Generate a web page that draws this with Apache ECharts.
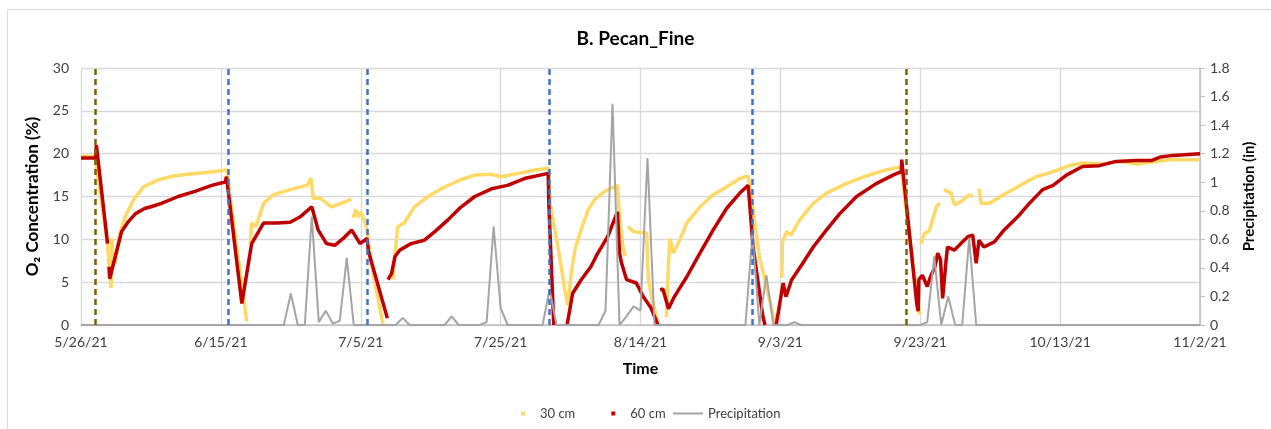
<!DOCTYPE html>
<html>
<head>
<meta charset="utf-8">
<script src="https://cdn.jsdelivr.net/npm/echarts@6/dist/echarts.min.js"></script>
<style>
  html,body{margin:0;padding:0;background:#fff;}
  #chart{width:1271px;height:429px;}
</style>
</head>
<body>
<div id="chart"></div>
<script>
// time axis is days since 5/26/21, ticks every 20 days
const xTickLabels = ['5/26/21','6/15/21','7/5/21','7/25/21','8/14/21','9/3/21','9/23/21','10/13/21','11/2/21']

// O2 at 30 cm (null = gap in the record)
const days30 = [0,2.0,2.2,3.8,4.3,4.4,4.6,4.9,5.5,6.3,7.5,8.9,10.9,13.2,15.2,18.0,20.9,21.3,23.7,23.8,
  24.2,24.4,25.0,26.1,27.5,29.9,32.3,32.9,33.2,34.2,35.8,37.2,38.7,38.8,38.9,39.3,39.6,40.0,40.5,40.9,41.5,43.2,43.3,
  44.6,44.8,45.3,46.2,47.7,49.6,51.5,54.1,56.3,58.7,60.1,62.5,64.9,66.8,67.1,68.2,69.1,69.6,70.1,70.6,71.5,72.5,73.4,74.9,76.7,
  77.0,77.5,77.8,77.9,78.2,79.0,80.9,81.0,81.2,81.8,82.5,82.6,
  83.7,84.0,84.2,84.7,85.6,86.6,88.5,90.4,92.3,94.2,95.4,96.1,97.0,98.0,98.9,99.4,99.5,
  100.2,100.3,100.9,101.5,102.8,104.7,106.6,109.4,112.3,115.1,117.0,117.3,118.5,119.9,120.0,
  120.1,120.6,121.3,122.3,122.8,122.9,123.4,124.4,124.9,125.8,127.0,127.5,127.6,
  128.4,128.7,129.9,131.9,133.9,135.6,136.6,139.0,141.3,143.2,146.1,148.5,150.9,153.0,155.6,160]
const o2_30 = [19.7,19.7,19.5,9.3,4.3,10.1,7.5,7.2,10.5,12.6,14.6,16.1,16.9,17.4,17.6,17.8,18.1,15.0,0.4,null,
  9.5,11.9,11.5,14.2,15.2,15.8,16.3,17.1,14.8,14.8,13.8,14.2,14.7,null,12.5,13.5,12.6,13.2,12.2,11.1,7.2,0,null,
  5.3,7.6,11.5,11.9,13.8,15.0,15.9,16.9,17.5,17.6,17.3,17.7,18.1,18.3,14.0,9.1,4.5,2.3,6.0,8.75,11.1,13.4,14.6,15.6,16.3,
  12.6,9.1,8.0,null,11.5,10.9,10.7,7.2,4.9,2.5,0.3,null,
  0.9,7.2,10.1,8.4,9.9,11.9,13.8,15.2,16.1,17.1,17.4,13.4,8.0,4.5,1.4,0,null,
  5.5,9.7,10.9,10.5,12.3,14.2,15.4,16.5,17.4,18.1,18.4,18.2,10.0,1.2,null,
  9.5,10.7,11.0,13.8,14.2,null,15.8,15.4,14.0,14.4,15.2,15.0,null,
  15.9,14.2,14.2,15.2,16.1,16.9,17.3,17.9,18.6,18.9,18.8,19.1,18.8,19.0,19.3,19.3]

// O2 at 60 cm
const days60 = [0,2.1,2.2,3.8,3.9,4.0,4.1,4.3,4.9,5.8,6.8,7.8,9.1,10.0,11.5,13.9,16.3,18.7,20.6,20.8,23.0,23.8,24.4,26.1,28.0,29.9,31.3,
  33.0,33.9,35.1,36.3,37.5,38.7,39.9,40.9,41.1,43.8,43.85,
  43.9,44.4,44.9,45.6,47.2,49.1,50.6,52.5,54.1,56.3,58.7,61.0,63.4,66.8,66.9,67.6,67.7,
  69.5,70.3,71.5,72.9,73.9,75.3,76.7,77.0,77.3,78.0,79.4,80.4,81.5,82.5,82.6,
  82.8,83.2,84.0,84.7,85.6,86.6,88.5,90.4,92.3,94.2,95.4,96.1,97.5,97.8,97.9,
  99.4,100.4,100.8,101.6,103.2,104.7,106.6,108.5,110.9,113.7,116.1,117.3,117.35,118.5,119.5,119.7,
  119.8,120.3,121.0,121.5,122.1,122.5,122.9,123.2,123.7,123.9,124.9,125.8,126.8,127.5,128.0,128.4,129.1,130.6,132.0,133.9,
  135.6,137.5,139.0,140.9,143.2,145.6,148.0,150.9,153.0,154.3,156.2,160]
const o2_60 = [19.5,19.5,21.0,9.5,null,6.8,5.4,5.6,8.0,10.9,12.1,13.0,13.6,13.8,14.2,15.0,15.6,16.3,16.7,17.3,2.5,6.5,9.5,11.9,11.9,12.0,12.6,
  13.8,11.1,9.5,9.3,10.1,11.1,9.5,10.1,8.6,0.8,null,
  5.3,6.0,8.0,8.75,9.5,9.9,10.9,12.3,13.6,15.0,15.9,16.3,17.1,17.7,14.0,0,null,
  0,3.7,5.25,6.8,8.4,10.3,13.2,8.4,7.2,5.3,4.9,3.3,2.0,0,null,
  4.1,4.2,1.9,3.1,4.3,5.6,8.4,11.1,13.6,15.4,16.3,9.1,1.0,0,null,
  0,4.9,3.3,5.25,7.2,9.1,11.1,13.0,15.0,16.5,17.5,17.9,19.3,10.3,2.5,1.6,
  5.3,5.8,4.5,5.7,6.8,8.4,7.6,3.1,7.6,9.1,8.75,9.5,10.3,10.5,7.2,9.9,9.1,9.7,11.1,12.6,
  14.2,15.8,16.3,17.5,18.5,18.6,19.1,19.2,19.2,19.6,19.8,20.0]

// daily precipitation (in)
const precipDays = [0,29,30,31,32,33,34,35,36,37,38,39,45,46,47,52,53,54,57,58,59,60,61,66,67,68,74,75,76,77,78,79,80,81,82,
  95,96,97,98,99,101,102,103,120,121,122,123,124,125,126,127,128,160]
const precipIn = [0,0,0.22,0,0,0.76,0.02,0.10,0.01,0.03,0.47,0,0,0.05,0,0,0.06,0,0,0.02,0.69,0.12,0,0,0.25,0,0,0.10,1.55,0,0.06,0.13,0.10,1.17,0,
  0,0.64,0,0.35,0,0,0.02,0,0,0.02,0.48,0,0.20,0,0,0.61,0,0]

// sampling events (vertical dashed lines)
const brownDays = [2, 118]
const blueDays = [21, 41, 67, 96]

const zip = (xs, ys) => xs.map((x, i) => [x, ys[i] == null ? '-' : ys[i]])

const chart = echarts.init(document.getElementById('chart'))
const font = 'Lato, "Open Sans", sans-serif'
const vlines = brownDays.map(d => ({xAxis: d, lineStyle: {color: '#7f6000'}}))
  .concat(blueDays.map(d => ({xAxis: d, lineStyle: {color: '#4472c4'}})))

chart.setOption({
  animation: false,
  textStyle: {fontFamily: font},
  title: {
    text: 'B. Pecan_Fine',
    left: 'center',
    top: 24,
    textStyle: {fontSize: 19, fontWeight: 'bold', color: '#000', fontFamily: font}
  },
  graphic: [{
    type: 'rect', silent: true,
    shape: {x: 7.5, y: 9.5, width: 1300, height: 440},
    style: {fill: 'none', stroke: '#d9d9d9', lineWidth: 1}
  }],
  grid: {left: 81, right: 71, top: 68, bottom: 104},
  legend: [{
    data: ['30 cm', '60 cm'],
    icon: 'rect',
    itemWidth: 4, itemHeight: 4,
    left: 516, top: 402,
    itemGap: 36,
    textStyle: {fontSize: 13, color: '#404040', padding: [0, 0, 0, 10]}
  }, {
    data: ['Precipitation'],
    icon: 'rect',
    itemWidth: 30, itemHeight: 2,
    left: 668, top: 402,
    textStyle: {fontSize: 13, color: '#404040'}
  }],
  xAxis: {
    type: 'value', min: 0, max: 160, interval: 20,
    name: 'Time', nameLocation: 'middle', nameGap: 36,
    nameTextStyle: {fontSize: 16, fontWeight: 'bold', color: '#000'},
    axisLine: {lineStyle: {color: '#bfbfbf', width: 1.5}},
    axisTick: {show: false},
    axisLabel: {fontSize: 14, color: '#404040', margin: 10, formatter: v => xTickLabels[Math.round(v / 20)]},
    splitLine: {show: true, lineStyle: {color: '#d9d9d9', width: 1.3}}
  },
  yAxis: [{
    type: 'value', min: 0, max: 30, interval: 5,
    name: 'O\u2082 Concentration (%)', nameLocation: 'middle', nameGap: 40, nameRotate: 90,
    nameTextStyle: {fontSize: 17, fontWeight: 'bold', color: '#000'},
    axisLine: {show: false},
    axisTick: {show: false},
    axisLabel: {fontSize: 14, color: '#404040', margin: 12},
    splitLine: {lineStyle: {color: '#d9d9d9', width: 1.3}}
  }, {
    type: 'value', min: 0, max: 1.8, interval: 0.2,
    name: 'Precipitation (in)', nameLocation: 'middle', nameGap: 42, nameRotate: 90,
    nameTextStyle: {fontSize: 15, fontWeight: 'bold', color: '#000'},
    axisLine: {show: true, lineStyle: {color: '#bfbfbf', width: 1.5}},
    axisTick: {show: true, length: 5, lineStyle: {color: '#bfbfbf'}},
    axisLabel: {fontSize: 14, color: '#404040', margin: 10,
      formatter: v => String(Math.round(v * 10) / 10)},
    splitLine: {show: false}
  }],
  series: [{
    name: '30 cm', type: 'line', yAxisIndex: 0,
    data: zip(days30, o2_30),
    showSymbol: false, connectNulls: false,
    color: '#ffd966',
    lineStyle: {color: '#ffd966', width: 3.5}
  }, {
    name: '60 cm', type: 'line', yAxisIndex: 0,
    data: zip(days60, o2_60),
    showSymbol: false, connectNulls: false,
    color: '#c00000',
    lineStyle: {color: '#c00000', width: 3.5}
  }, {
    name: 'Precipitation', type: 'line', yAxisIndex: 1,
    data: zip(precipDays, precipIn),
    showSymbol: false,
    color: '#a5a5a5',
    lineStyle: {color: '#a5a5a5', width: 2},
    markLine: {
      silent: true, symbol: 'none', label: {show: false},
      lineStyle: {type: [6, 4], width: 2.5},
      data: vlines
    }
  }]
})
</script>
</body>
</html>
